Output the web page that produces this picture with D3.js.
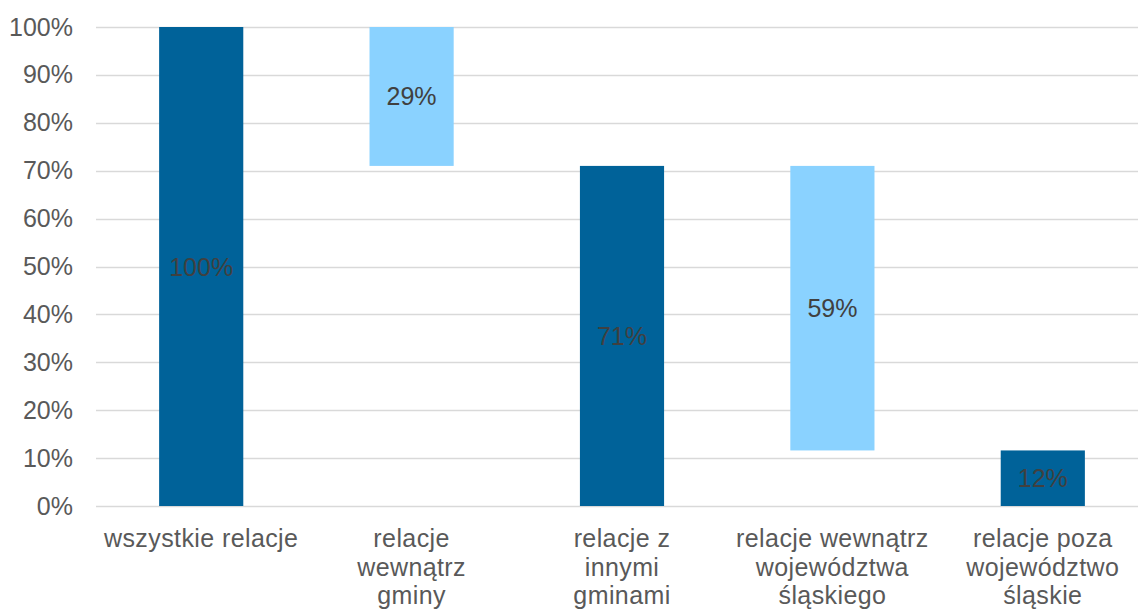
<!DOCTYPE html>
<html>
<head>
<meta charset="utf-8">
<script src="https://cdn.jsdelivr.net/npm/d3@7"></script>
<style>
  html, body { margin: 0; padding: 0; background: #fff; }
  svg { display: block; font-family: "Liberation Sans", Arial, sans-serif; }
</style>
</head>
<body>
<svg id="chart" width="1138" height="610"></svg>
<script>
// ---- data ----
const categories = [
  "wszystkie relacje",
  "relacje\nwewnątrz\ngminy",
  "relacje z\ninnymi\ngminami",
  "relacje wewnątrz\nwojewództwa\nśląskiego",
  "relacje poza\nwojewództwo\nśląskie"
];
// waterfall: each bar has a base (invisible) and a visible value
const barValues = [100, 29, 71, 59.4, 11.6];
const barBases  = [0, 71, 0, 11.6, 0];
const barTypes  = ["total", "part", "total", "part", "total"];
const valueLabels = ["100%", "29%", "71%", "59%", "12%"];
const yTicks = [0, 10, 20, 30, 40, 50, 60, 70, 80, 90, 100];

// ---- layout ----
const svg = d3.select("#chart");
const plotLeft = 96, plotRight = 1148, plotTop = 27, plotBottom = 506;
const colors = { total: "#006299", part: "#8AD2FF" };

const x = d3.scaleBand()
  .domain(categories)
  .range([plotLeft, plotRight])
  .paddingInner(0.6)
  .paddingOuter(0.3);

const y = d3.scaleLinear().domain([0, 100]).range([plotBottom, plotTop]);

// gridlines
svg.append("g")
  .selectAll("line")
  .data(yTicks)
  .join("line")
  .attr("x1", plotLeft)
  .attr("x2", 1138)
  .attr("y1", d => Math.round(y(d)) + 0.5)
  .attr("y2", d => Math.round(y(d)) + 0.5)
  .attr("stroke", "#d9d9d9")
  .attr("stroke-width", 1.3);

// y axis labels
const yAxis = d3.axisLeft(y).tickValues(yTicks).tickFormat(d => d + "%").tickSize(0).tickPadding(0);
const yg = svg.append("g").attr("transform", `translate(73,0)`).call(yAxis);
yg.select(".domain").remove();
yg.selectAll("text")
  .attr("fill", "#595959")
  .style("font-size", "25px")
  .style("font-family", "'Liberation Sans', Arial, sans-serif");

// bars
const data = categories.map((c, i) => ({
  cat: c, base: barBases[i], value: barValues[i], type: barTypes[i], label: valueLabels[i]
}));

svg.append("g")
  .selectAll("rect")
  .data(data)
  .join("rect")
  .attr("x", d => x(d.cat))
  .attr("width", x.bandwidth())
  .attr("y", d => y(d.base + d.value))
  .attr("height", d => y(d.base) - y(d.base + d.value))
  .attr("fill", d => colors[d.type]);

// value labels
svg.append("g")
  .selectAll("text")
  .data(data)
  .join("text")
  .attr("x", d => x(d.cat) + x.bandwidth() / 2)
  .attr("y", d => (y(d.base) + y(d.base + d.value)) / 2)
  .attr("dy", "0.36em")
  .attr("text-anchor", "middle")
  .attr("fill", "#404040")
  .style("font-size", "25px")
  .text(d => d.label);

// category labels
const catG = svg.append("g")
  .selectAll("text")
  .data(categories)
  .join("text")
  .attr("text-anchor", "middle")
  .attr("fill", "#595959")
  .style("font-size", "25px")
  .style("letter-spacing", "0.4px")
  .attr("x", d => x(d) + x.bandwidth() / 2)
  .attr("y", 547);
catG.selectAll("tspan")
  .data(d => d.split("\n").map(t => ({ t, parent: d })))
  .join("tspan")
  .attr("x", d => x(d.parent) + x.bandwidth() / 2)
  .attr("dy", (d, i) => i === 0 ? 0 : 28.5)
  .text(d => d.t);
</script>
</body>
</html>
